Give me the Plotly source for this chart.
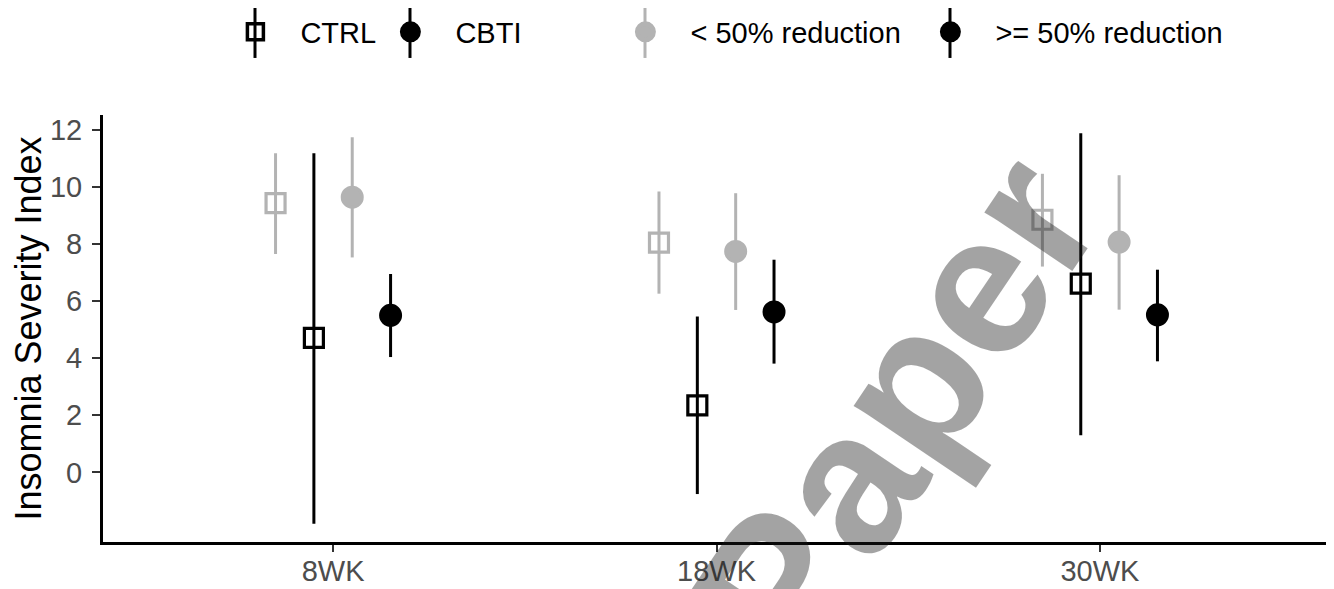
import plotly.graph_objects as go

weeks = ["8WK", "18WK", "30WK"]
y_ticks = [0, 2, 4, 6, 8, 10, 12]

# Insomnia Severity Index: mean and interval (low, high) per week
ctrl_lt50_mean = [9.43, 8.05, 8.85]
ctrl_lt50_low = [7.65, 6.26, 7.21]
ctrl_lt50_high = [11.18, 9.84, 10.46]

ctrl_ge50_mean = [4.71, 2.35, 6.61]
ctrl_ge50_low = [-1.80, -0.76, 1.30]
ctrl_ge50_high = [11.18, 5.46, 11.88]

cbti_lt50_mean = [9.64, 7.74, 8.07]
cbti_lt50_low = [7.53, 5.69, 5.70]
cbti_lt50_high = [11.74, 9.78, 10.41]

cbti_ge50_mean = [5.50, 5.62, 5.52]
cbti_ge50_low = [4.04, 3.81, 3.89]
cbti_ge50_high = [6.95, 7.45, 7.10]

GREY = "#B3B3B3"
BLACK = "#000000"
FONT = "Liberation Sans, Arial, sans-serif"

series = [
    ("ctrl_lt50", ctrl_lt50_mean, ctrl_lt50_low, ctrl_lt50_high, "square-open", GREY),
    ("ctrl_ge50", ctrl_ge50_mean, ctrl_ge50_low, ctrl_ge50_high, "square-open", BLACK),
    ("cbti_lt50", cbti_lt50_mean, cbti_lt50_low, cbti_lt50_high, "circle", GREY),
    ("cbti_ge50", cbti_ge50_mean, cbti_ge50_low, cbti_ge50_high, "circle", BLACK),
]

fig = go.Figure()
for i, (name, m, lo, hi, sym, col) in enumerate(series):
    fig.add_trace(go.Scatter(
        x=weeks, y=m, mode="markers", name=name, showlegend=False,
        offsetgroup=str(i),
        marker=dict(symbol=sym, color=col, size=19 if "square" in sym else 20,
                    line=dict(color=col, width=3.2 if "square" in sym else 3)),
        error_y=dict(type="data", symmetric=False,
                     array=[h - v for h, v in zip(hi, m)],
                     arrayminus=[v - l for v, l in zip(m, lo)],
                     color=col, thickness=3, width=0),
    ))

# plot-area geometry (figure pixels)
FW, FH = 1326, 581
PL, PW = 95, 1227
PB, PH = 534.5, 427.4   # bottom edge (from top) and height

# legend entries (one legend each so they can be placed like the reference)
legend_items = [
    ("CTRL", "square-open", BLACK, 0.08753),
    ("CBTI", "circle", BLACK, 0.21385),
    ("< 50% reduction", "circle", GREY, 0.40538),
    (">= 50% reduction", "circle", BLACK, 0.65395),
]
LEG_Y = 1.1944
IW = 80
shapes = []
legends = {}
for j, (nm, sym, col, lx) in enumerate(legend_items):
    lname = "legend" if j == 0 else f"legend{j + 1}"
    fig.add_trace(go.Scatter(
        x=[None], y=[None], mode="markers", name=nm, legend=lname,
        marker=dict(symbol=sym, color=col, size=16,
                    line=dict(color=col, width=3.5 if "square" in sym else 5))))
    legends[lname] = dict(orientation="h", x=lx, xanchor="left", y=LEG_Y, yanchor="middle",
                          font=dict(size=29, color="#000000"), itemwidth=IW,
                          bgcolor="rgba(0,0,0,0)")
    # vertical error-bar stroke through the legend key
    kx = lx + (IW / 2 + 4.6) / PW
    shapes.append(dict(type="line", xref="paper", yref="paper", x0=kx, x1=kx,
                       y0=(PB - 50) / PH, y1=(PB - 0) / PH,
                       line=dict(color=col, width=3), layer="below"))

fig.update_layout(
    width=FW, height=FH,
    margin=dict(l=PL, r=FW - PL - PW, t=PB - PH, b=FH - PB, autoexpand=False),
    paper_bgcolor="white", plot_bgcolor="white",
    font=dict(family=FONT, color="#000000"),
    scattermode="group", scattergap=0.6,
    shapes=shapes,
    xaxis=dict(type="category", range=[-0.6, 2.6], showline=True, linecolor="black", linewidth=3,
               ticks="outside", ticklen=7, tickwidth=2, tickcolor="#333333", automargin=False,
               ticklabelstandoff=-6,
               tickfont=dict(size=29, color="#4D4D4D"), showgrid=False, zeroline=False),
    yaxis=dict(range=[-2.44, 12.52], tickvals=y_ticks, showline=True, linecolor="black", linewidth=3,
               ticks="outside", ticklen=8, tickwidth=2, tickcolor="#333333", automargin=False,
               ticklabelstandoff=4,
               tickfont=dict(size=29, color="#4D4D4D"), showgrid=False, zeroline=False,
               title=dict(text="Insomnia Severity Index", font=dict(size=36, color="#000000"), standoff=0)),
    annotations=[dict(text="<b>Paper</b>", xref="paper", yref="paper", x=0.6455, y=0.31,
                      xanchor="center", yanchor="middle",
                      showarrow=False, textangle=-56,
                      font=dict(family=FONT, size=200, color="rgba(25,25,25,0.4)"))],
)
fig.update_layout(**legends)

fig.write_html("out.html")
